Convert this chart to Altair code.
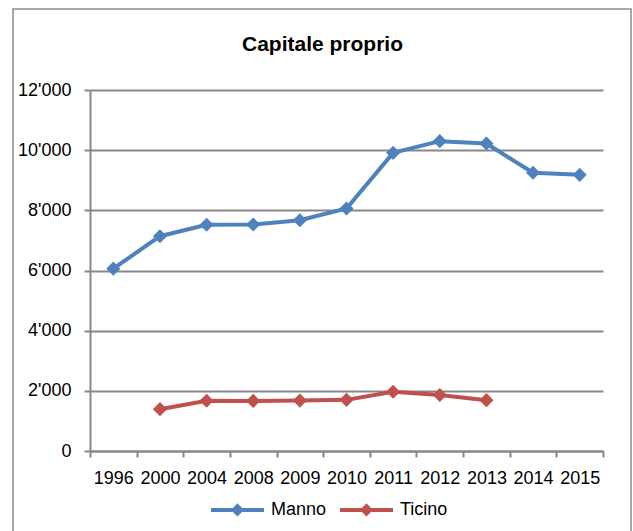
import altair as alt
import pandas as pd

# Equity ("Capitale proprio") in thousands, Manno vs. Ticino
anni = ["1996", "2000", "2004", "2008", "2009", "2010", "2011", "2012", "2013", "2014", "2015"]
manno = [6060, 7140, 7520, 7530, 7670, 8060, 9910, 10300, 10220, 9250, 9180]
ticino_anni = ["2000", "2004", "2008", "2009", "2010", "2011", "2012", "2013"]
ticino = [1390, 1670, 1665, 1675, 1700, 1970, 1860, 1690]

serie = ["Manno", "Ticino"]
colori = ["#4F81BD", "#C0504D"]

rows = [{"anno": a, "valore": v, "serie": "Manno"} for a, v in zip(anni, manno)]
rows += [{"anno": a, "valore": v, "serie": "Ticino"} for a, v in zip(ticino_anni, ticino)]
df = pd.DataFrame(rows)

FONT = "Liberation Sans"
GRAY = "#878787"
FS = 18

# legend glyph: a line segment with a small diamond in the middle
legend_symbol = "M-1,0L1,0M0,-0.14L0.14,0L0,0.14L-0.14,0Z"

x_enc = alt.X(
    "anno:N",
    sort=anni,
    bandPosition=0.5,
    scale=alt.Scale(type="band", domain=anni, paddingInner=0, paddingOuter=0),
    axis=alt.Axis(
        title=None,
        labelAngle=0,
        tickBand="extent",
        grid=False,
        domainColor=GRAY,
        domainWidth=2,
        tickColor=GRAY,
        tickWidth=2,
        tickSize=6,
        labelPadding=12,
        labelFontSize=FS,
        labelColor="#000000",
        labelFont=FONT,
    ),
)
y_enc = alt.Y(
    "valore:Q",
    scale=alt.Scale(domain=[0, 12000], nice=False),
    axis=alt.Axis(
        title=None,
        values=[0, 2000, 4000, 6000, 8000, 10000, 12000],
        labelExpr="replace(format(datum.value, ','), ',', \"'\")",
        grid=True,
        gridColor=GRAY,
        gridWidth=2,
        domainColor=GRAY,
        domainWidth=2,
        tickColor=GRAY,
        tickWidth=2,
        tickSize=6,
        labelPadding=13,
        labelFontSize=FS,
        labelColor="#000000",
        labelFont=FONT,
    ),
)
color_enc = alt.Color(
    "serie:N",
    scale=alt.Scale(domain=serie, range=colori),
    legend=alt.Legend(
        title=None,
        orient="none",
        direction="horizontal",
        legendX=119,
        legendY=391,
        symbolType=legend_symbol,
        symbolSize=2809,
        symbolStrokeWidth=4,
        labelFontSize=FS,
        labelFont=FONT,
        labelColor="#000000",
        labelOffset=5,
        columnPadding=5,
    ),
)

linee = alt.Chart(df).mark_line(strokeWidth=4).encode(x=x_enc, y=y_enc, color=color_enc)
punti = alt.Chart(df).mark_point(shape="diamond", filled=True, size=200, opacity=1).encode(
    x=x_enc, y=y_enc, color=color_enc
)

# outer frame around the whole chart
cornice = alt.Chart(pd.DataFrame({"k": [0]})).mark_rect(
    fill=None, stroke="#8C8C8C", strokeWidth=1.5
).encode(
    x=alt.value(-77), x2=alt.value(541), y=alt.value(-81), y2=alt.value(460)
)

chart = (
    alt.layer(cornice, linee, punti)
    .properties(
        width=513,
        height=361,
        title=alt.TitleParams(
            "Capitale proprio",
            font=FONT,
            fontSize=21,
            fontWeight="bold",
            color="#000000",
            anchor="middle",
            dx=-24,
            offset=-47,
        ),
        autosize=alt.AutoSizeParams(type="none"),
        padding={"left": 90, "top": 90, "right": 30, "bottom": 80},
        background="white",
    )
    .configure_view(stroke=None)
)

chart.save("out.html", embed_options={"renderer": "svg", "actions": False})
